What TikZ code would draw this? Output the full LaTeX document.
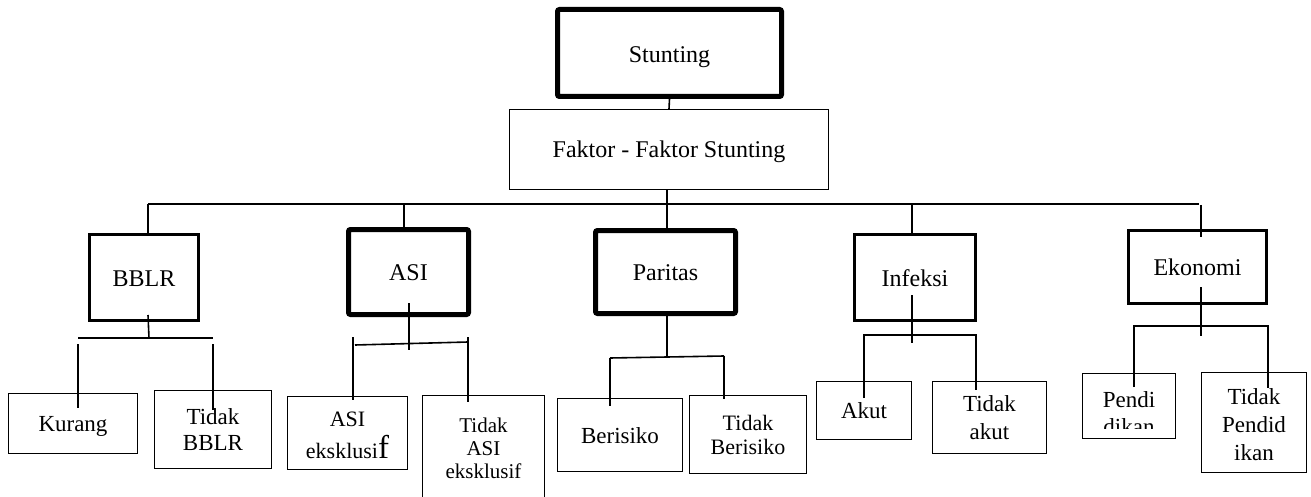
\documentclass[tikz,border=0pt]{standalone}
\usepackage{fontspec}
\setmainfont{Liberation Serif}
\begin{document}
\begin{tikzpicture}[x=1pt,y=-1pt,
  box/.style={draw, rectangle, inner sep=0pt, align=center, line width=1pt,
     font=\fontsize{23}{27}\selectfont, text height=16pt, text depth=0pt},
  topbox/.style={box, font=\fontsize{24}{27}\selectfont, text height=17pt},
  conn/.style={line width=1.6pt}]
\useasboundingbox (0,0) rectangle (1311,497);
\clip (0,0) rectangle (1311,497);
% main boxes
\node[topbox, line width=5pt, rounded corners=2pt, minimum width=224pt, minimum height=87pt, text height=20pt] (stunt) at (669.5,53) {Stunting};
\node[topbox, minimum width=319pt, minimum height=80pt] (faktor) at (669,149.5) {Faktor - Faktor Stunting};
\node[topbox, line width=3pt, minimum width=109pt, minimum height=86pt] (bblr) at (144,277.5) {BBLR};
\node[topbox, line width=5pt, rounded corners=2pt, minimum width=120pt, minimum height=85pt] (asi) at (408.5,272) {ASI};
\node[topbox, line width=5pt, rounded corners=2pt, minimum width=140pt, minimum height=83pt] (paritas) at (665.5,272) {Paritas};
\node[topbox, line width=3pt, minimum width=121pt, minimum height=86pt] (infeksi) at (915,277.5) {Infeksi};
\node[topbox, line width=3pt, minimum width=138pt, minimum height=73pt] (ekonomi) at (1197.5,267) {Ekonomi};
% sub boxes
\node[box, minimum width=129pt, minimum height=60pt] (kurang) at (73,423.5) {Kurang};
\node[box, minimum width=117pt, minimum height=78pt, font=\fontsize{23}{26}\selectfont, text height=42pt] (tbblr) at (213,429.5) {Tidak\\BBLR};
\node[box, minimum width=120pt, minimum height=73pt, font=\fontsize{22}{32}\selectfont, text height=50pt] (asiex) at (347.5,433) {ASI\\eksklusi{\fontsize{33}{32}\selectfont f}};
\node[box, minimum width=122pt, minimum height=115pt, font=\fontsize{21}{23}\selectfont, text height=60pt, text depth=9pt] (tasiex) at (483.5,452.5) {Tidak\\ASI\\eksklusif};
\node[box, minimum width=125pt, minimum height=73pt] (beris) at (620,435) {Berisiko};
\node[box, minimum width=117pt, minimum height=78pt, font=\fontsize{22}{24}\selectfont, text height=40pt] (tberis) at (748,434.5) {Tidak\\Berisiko};
\node[box, minimum width=95pt, minimum height=58pt] (akut) at (864,410.5) {Akut};
\node[box, minimum width=114pt, minimum height=72pt, font=\fontsize{23}{28}\selectfont, text height=44pt] (takut) at (989.5,417.5) {Tidak\\akut};
\begin{scope}[even odd rule]
\clip (0,0) rectangle (1311,497) (1083.5,428.5) rectangle (1174.5,438);
\node[box, minimum width=93pt, minimum height=65pt, text height=56pt] (pend) at (1129,406) {Pendi\\dikan};
\end{scope}
\node[box, minimum width=105pt, minimum height=100pt, font=\fontsize{23}{28}\selectfont, text height=75pt] (tpend) at (1254,422.5) {Tidak\\Pendid\\ikan};
% junction coordinates
\coordinate (barL) at (148,204);
\coordinate (barR) at (1199,204);
\coordinate (jA) at (404,204);
\coordinate (jI) at (912,204);
\coordinate (jE) at (1201,205);
\coordinate (bbM) at (149,338);
\coordinate (bbL) at (78,338);
\coordinate (bbR) at (213,338);
\coordinate (asM) at (409,350);
\coordinate (asL) at (355,345);
\coordinate (asR) at (468,342);
\coordinate (paM) at (667,357);
\coordinate (paL) at (610,358);
\coordinate (paR) at (724,356);
\coordinate (inM) at (912,343);
\coordinate (inL) at (864,335);
\coordinate (inR) at (976,335);
\coordinate (ekM) at (1201,336);
\coordinate (ekL) at (1134,326);
\coordinate (ekR) at (1268,326);
% top connectors
\draw[conn] (stunt.south) -- (faktor.north);
\draw[conn] (barL) -- (barR);
\draw[conn] ([xshift=-2pt]faktor.south) -- ([xshift=-2pt,yshift=-3pt]faktor.south |- paritas.north);
\draw[conn] (barL) -- (barL |- bblr.north);
\draw[conn] (jA) -- ([yshift=-4pt]jA |- asi.north);
\draw[conn] (jI) -- (jI |- infeksi.north);
\draw[conn] (jE) -- ([yshift=-8pt]jE |- ekonomi.north);
% BBLR
\draw[conn] ([xshift=4pt,yshift=7pt]bblr.south) -- (bbM);
\draw[conn] (bbL) -- (bbR);
\draw[conn] ([yshift=-6pt]bbL) -- ([yshift=-15pt]bbL |- kurang.north);
\draw[conn] ([yshift=-6pt]bbR) -- ([yshift=-20pt]bbR |- tbblr.north);
% ASI
\draw[conn] ([yshift=14pt]asM |- asi.south) -- (asM);
\draw[conn] (asL) -- (asR);
\draw[conn] ([xshift=-2pt,yshift=8pt]asL) -- ([xshift=-2pt,yshift=-4pt]asL |- asiex.north);
\draw[conn] ([yshift=5pt]asR) -- ([yshift=-7pt]asR |- tasiex.north);
% Paritas
\draw[conn] ([yshift=5pt]paM |- paritas.south) -- (paM);
\draw[conn] (paL) -- (paR);
\draw[conn] (paL) -- ([yshift=-8pt]paL |- beris.north);
\draw[conn] (paR) -- ([yshift=-4pt]paR |- tberis.north);
% Infeksi
\draw[conn] ([yshift=27pt]inM |- infeksi.south) -- (inM);
\draw[conn] ([yshift=-17pt]inL |- akut.north) -- (inL) -- (inR) -- ([yshift=-9pt]inR |- takut.north);
% Ekonomi
\draw[conn] ([yshift=18pt]ekM |- ekonomi.south) -- (ekM);
\draw[conn] ([yshift=-14pt]ekL |- pend.north) -- (ekL) -- (ekR) -- ([yshift=-16pt]ekR |- tpend.north);
\end{tikzpicture}
\end{document}
